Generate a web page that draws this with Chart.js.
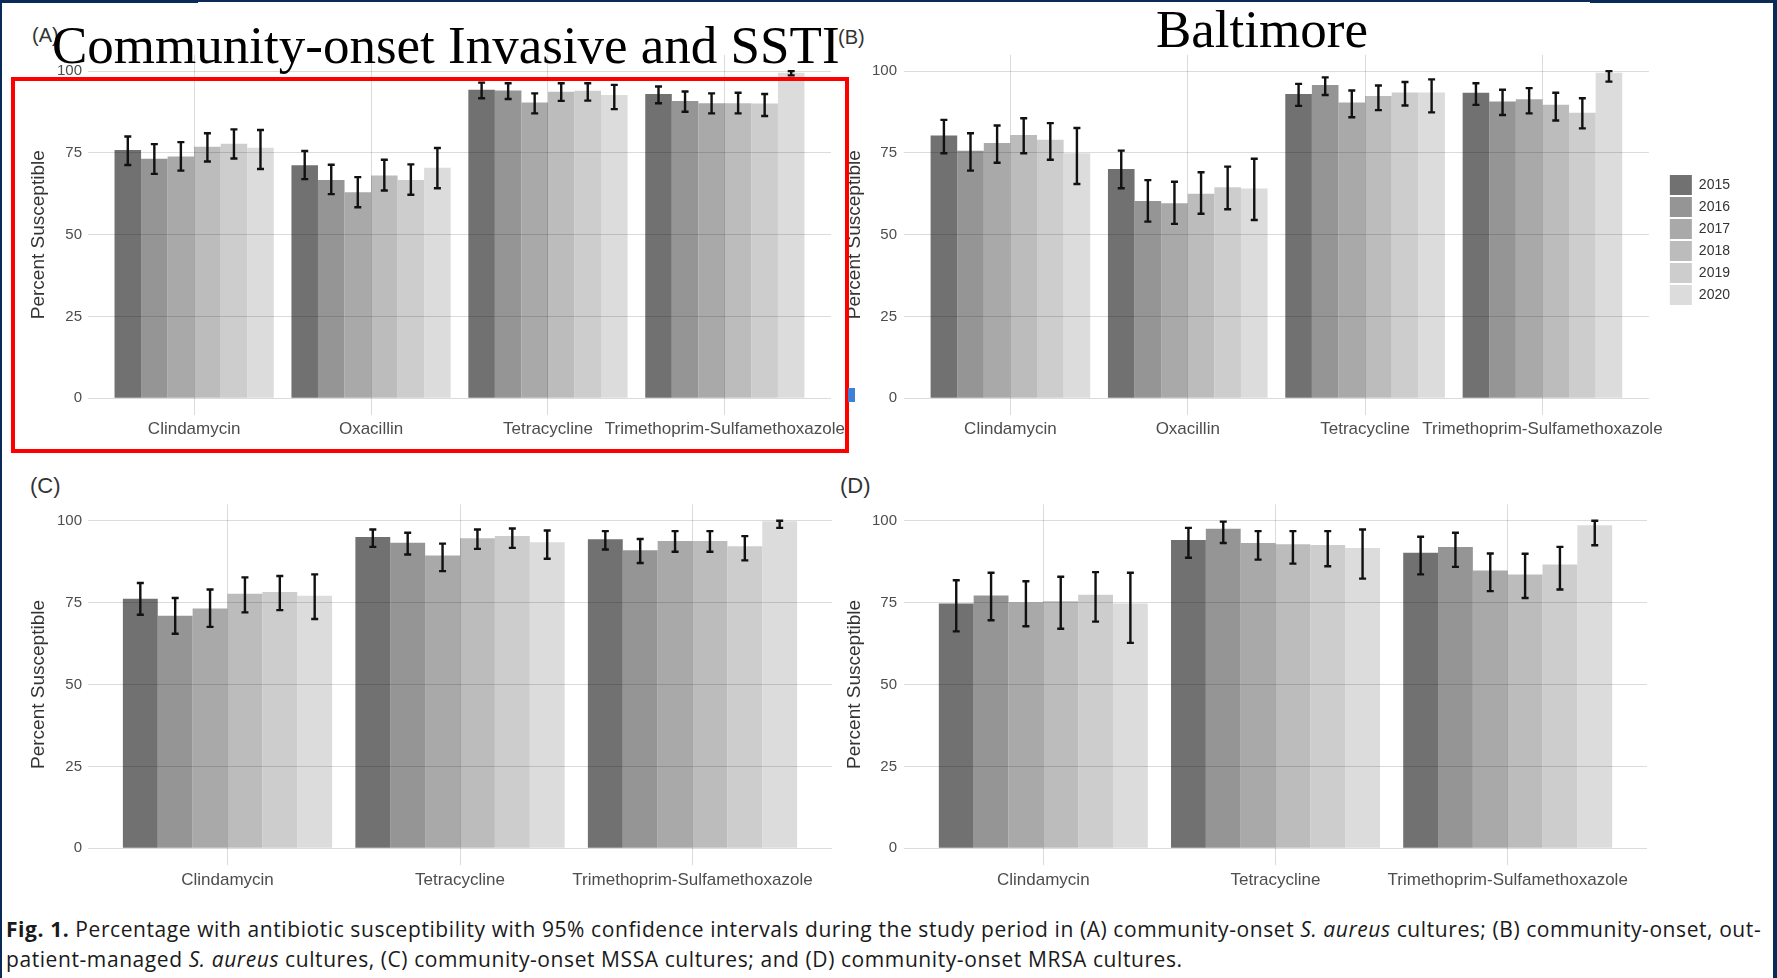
<!DOCTYPE html>
<html>
<head>
<meta charset="utf-8">
<script src="https://cdn.jsdelivr.net/npm/chart.js@4.4.1/dist/chart.umd.min.js"></script>
<style>
  html, body { margin: 0; padding: 0; background: #fff; }
  body { width: 1777px; height: 978px; position: relative; overflow: hidden; font-family: 'Liberation Sans', Arial, sans-serif; }
  canvas { position: absolute; }
  .edge { position: absolute; background: #0a2a57; }
  .tag { position: absolute; font-size: 20px; line-height: 20px; color: #333; white-space: nowrap; }
  .head { position: absolute; font-family: 'Liberation Serif', 'Times New Roman', serif; font-size: 53px; line-height: 53px; color: #000; white-space: nowrap; }
  #box { position: absolute; left: 11px; top: 77px; width: 830px; height: 368px; border: 4px solid #ff0000; }
  #handle { position: absolute; left: 848px; top: 388px; width: 7px; height: 14px; background: #3f7fd6; }
  #caption { position: absolute; left: 6px; top: 914px; font-family: 'Open Sans', sans-serif; font-size: 21px; letter-spacing: 0.58px; line-height: 30px; color: #1a1a1a; white-space: nowrap; }
</style>
</head>
<body>
<div class="tag" style="left:32px; top:25px;">(A)</div>
<div class="tag" style="left:838px; top:27px;">(B)</div>
<div class="tag" style="left:30px; top:476px; font-size:22px;">(C)</div>
<div class="tag" style="left:840px; top:476px; font-size:22px;">(D)</div>

<canvas id="panelA" width="860" height="460" style="left:0; top:0;"></canvas>
<canvas id="panelB" width="937" height="460" style="left:840px; top:0;"></canvas>
<canvas id="panelC" width="860" height="440" style="left:0; top:460px;"></canvas>
<canvas id="panelD" width="937" height="440" style="left:840px; top:460px;"></canvas>

<div class="head" style="left:52px; top:18.6px;">Community-onset Invasive and SSTI</div>
<div class="head" style="left:1156px; top:2.6px;">Baltimore</div>

<div id="box"></div>
<div id="handle"></div>

<div id="caption"><b>Fig. 1.</b> Percentage with antibiotic susceptibility with 95% confidence intervals during the study period in (A) community-onset <i>S. aureus</i> cultures; (B) community-onset, out-<br>patient-managed <i>S. aureus</i> cultures, (C) community-onset MSSA cultures; and (D) community-onset MRSA cultures.</div>

<div class="edge" style="left:0; top:0; width:198px; height:3px;"></div>
<div class="edge" style="left:198px; top:0; width:1392px; height:2px;"></div>
<div class="edge" style="left:1590px; top:0; width:187px; height:3px;"></div>
<div class="edge" style="left:0; top:0; width:2px; height:978px;"></div>
<div class="edge" style="left:1773px; top:0; width:4px; height:978px;"></div>

<script>
// Study years (one bar per year in every drug group)
const years = ['2015', '2016', '2017', '2018', '2019', '2020'];
const drugsAll = ['Clindamycin', 'Oxacillin', 'Tetracycline', 'Trimethoprim-Sulfamethoxazole'];
const drugsSub = ['Clindamycin', 'Tetracycline', 'Trimethoprim-Sulfamethoxazole'];
const yTicks = [0, 25, 50, 75, 100];

// (A) community-onset S. aureus: rows = years, columns = drugsAll
const pctA = [
  [75.9, 71.2, 94.3, 93.0],
  [73.2, 66.7, 94.1, 90.9],
  [73.9, 63.0, 90.4, 90.2],
  [76.9, 68.1, 93.7, 90.2],
  [77.8, 66.7, 94.0, 90.1],
  [76.6, 70.5, 92.7, 99.5]
];
const lowA = [
  [71.3, 67.0, 91.7, 90.2],
  [68.6, 62.4, 91.5, 87.6],
  [69.6, 58.4, 87.1, 87.1],
  [72.4, 63.5, 90.9, 87.1],
  [73.3, 62.2, 91.0, 86.3],
  [70.1, 64.2, 88.4, 98.7]
];
const highA = [
  [80.0, 75.6, 96.5, 95.3],
  [77.7, 71.4, 96.3, 93.8],
  [78.3, 67.6, 93.2, 93.2],
  [81.0, 72.9, 96.3, 93.4],
  [82.2, 71.5, 96.3, 93.0],
  [82.0, 76.5, 95.8, 100.0]
];

// (B) community-onset, outpatient-managed S. aureus
const pctB = [
  [80.3, 70.1, 93.0, 93.4],
  [75.7, 60.3, 95.8, 90.7],
  [78.0, 59.6, 90.4, 91.4],
  [80.5, 62.5, 92.4, 89.7],
  [79.0, 64.5, 93.5, 87.3],
  [74.9, 64.1, 93.5, 99.5]
];
const lowB = [
  [74.9, 64.2, 89.4, 89.7],
  [69.6, 54.0, 92.7, 86.6],
  [72.0, 53.3, 85.9, 87.1],
  [74.9, 56.4, 88.1, 84.9],
  [72.9, 57.8, 89.5, 82.5],
  [65.5, 54.5, 87.4, 96.8]
];
const highB = [
  [85.1, 75.7, 96.1, 96.3],
  [81.0, 66.7, 98.1, 94.3],
  [83.4, 66.2, 94.1, 94.8],
  [85.6, 69.1, 95.6, 93.4],
  [84.1, 70.8, 96.7, 91.7],
  [82.6, 73.2, 97.5, 100.0]
];

// (C) community-onset MSSA: columns = drugsSub
const pctC = [
  [76.2, 95.0, 94.3],
  [71.0, 93.3, 91.0],
  [73.2, 89.4, 93.8],
  [77.7, 94.6, 93.8],
  [78.2, 95.3, 92.2],
  [77.1, 93.4, 99.8]
];
const lowC = [
  [71.3, 92.0, 91.2],
  [65.5, 89.7, 87.1],
  [67.6, 84.6, 90.5],
  [72.0, 91.4, 90.5],
  [72.7, 91.7, 87.9],
  [70.0, 88.4, 97.8]
];
const highC = [
  [81.0, 97.3, 96.8],
  [76.4, 96.3, 94.4],
  [79.0, 93.0, 96.8],
  [82.7, 97.3, 96.8],
  [83.1, 97.6, 95.3],
  [83.6, 97.0, 100.0]
];

// (D) community-onset MRSA
const pctD = [
  [74.7, 94.1, 90.2],
  [77.2, 97.5, 92.0],
  [75.1, 93.2, 84.8],
  [75.4, 92.8, 83.6],
  [77.4, 92.6, 86.6],
  [74.7, 91.7, 98.6]
];
const lowD = [
  [66.2, 88.7, 83.6],
  [69.6, 93.2, 85.9],
  [67.8, 88.1, 78.5],
  [67.0, 86.9, 76.4],
  [69.2, 86.1, 79.0],
  [62.7, 82.3, 92.5]
];
const highD = [
  [81.8, 97.8, 95.1],
  [84.1, 99.7, 96.3],
  [81.5, 96.8, 90.0],
  [82.9, 96.8, 89.9],
  [84.3, 96.8, 92.0],
  [84.1, 97.3, 100.0]
];

const greys = ['#717171', '#959595', '#a9a9a9', '#bcbcbc', '#cdcdcd', '#dcdcdc'];
const gridColor = 'rgba(0,0,0,0.14)';
const sans = "'Liberation Sans', Arial, sans-serif";

// 95% CI whiskers, placed on each bar through the y scale
const errorBars = {
  id: 'errorBars',
  afterDraw(chart) {
    const ctx = chart.ctx;
    const y = chart.scales.y;
    ctx.save();
    ctx.strokeStyle = '#111';
    ctx.lineWidth = 2.4;
    chart.data.datasets.forEach((ds, i) => {
      chart.getDatasetMeta(i).data.forEach((bar, j) => {
        const yl = y.getPixelForValue(ds.ciLow[j]);
        const yh = y.getPixelForValue(ds.ciHigh[j]);
        const half = 3.5;
        ctx.beginPath();
        ctx.moveTo(bar.x, yl); ctx.lineTo(bar.x, yh);
        ctx.moveTo(bar.x - half, yl); ctx.lineTo(bar.x + half, yl);
        ctx.moveTo(bar.x - half, yh); ctx.lineTo(bar.x + half, yh);
        ctx.stroke();
      });
    });
    ctx.restore();
  }
};

function drawPanel(id, cats, pct, low, high, g) {
  const datasets = years.map((yr, i) => ({
    label: yr,
    data: cats.map((c, j) => ({ x: j + 1, y: pct[i][j] })),
    ciLow: low[i],
    ciHigh: high[i],
    backgroundColor: greys[i],
    borderWidth: 0,
    categoryPercentage: 0.9,
    barPercentage: 1.0
  }));

  const scales = {
    x: {
      type: 'linear',
      min: 0.4,
      max: cats.length + 0.6,
      bounds: 'data',
      offset: false,
      grid: { offset: false, color: gridColor, lineWidth: 1, drawTicks: false, z: 1 },
      border: { display: false },
      afterBuildTicks: s => { s.ticks = cats.map((c, j) => ({ value: j + 1 })); },
      afterFit: s => { s.height = g.xH; },
      ticks: {
        autoSkip: false, maxRotation: 0, minRotation: 0,
        padding: g.xPad, color: '#4d4d4d',
        font: { family: sans, size: 17 },
        callback: v => cats[Math.round(v) - 1] || ''
      }
    },
    y: {
      min: -5,
      max: 105,
      bounds: 'data',
      grid: { color: gridColor, lineWidth: 1, drawTicks: false, z: 1 },
      border: { display: false },
      afterBuildTicks: s => { s.ticks = yTicks.map(v => ({ value: v })); },
      afterFit: s => { s.width = g.yW; },
      ticks: { padding: g.yPad, color: '#4d4d4d', font: { family: sans, size: 15 } },
      title: {
        display: true, text: 'Percent Susceptible', color: '#333',
        font: { family: sans, size: 19 }, padding: { top: g.titlePad, bottom: 0 }
      }
    }
  };

  let legend = { display: false };
  if (g.legend) {
    // narrow spacer between plot panel and key
    scales.gap = {
      type: 'linear', position: 'right', display: true,
      grid: { display: false, drawTicks: false }, border: { display: false },
      ticks: { display: false },
      afterFit: s => { s.width = 19; }
    };
    // key sits a fixed distance below the top of the plot panel
    legend = {
      display: true, position: 'right', align: 'start',
      title: { display: true, text: '', padding: { top: 108.2, bottom: 0 }, font: { size: 10, lineHeight: 1 } },
      labels: { boxWidth: 22, boxHeight: 20, padding: 2, color: '#333', font: { family: sans, size: 14 } }
    };
  }

  new Chart(document.getElementById(id), {
    type: 'bar',
    data: { datasets },
    options: {
      responsive: false,
      animation: false,
      layout: { padding: g.pad },
      plugins: { legend, tooltip: { enabled: false } },
      scales
    },
    plugins: [errorBars]
  });
}

drawPanel('panelA', drugsAll, pctA, lowA, highA,
  { pad: { top: 54.8, bottom: 5.4, left: 0, right: 29 }, yW: 88, xH: 40, xPad: 5, yPad: 6, titlePad: 27 });
drawPanel('panelB', drugsAll, pctB, lowB, highB,
  { pad: { top: 54.8, bottom: 5.4, left: 0, right: 37 }, yW: 64, xH: 40, xPad: 5, yPad: 7, titlePad: 3.6, legend: true });
drawPanel('panelC', drugsSub, pctC, lowC, highC,
  { pad: { top: 44.3, bottom: 5.3, left: 0, right: 28 }, yW: 88, xH: 30, xPad: 5, yPad: 6, titlePad: 27 });
drawPanel('panelD', drugsSub, pctD, lowD, highD,
  { pad: { top: 44.3, bottom: 5.3, left: 0, right: 130 }, yW: 64, xH: 30, xPad: 5, yPad: 7, titlePad: 3.6 });
</script>
</body>
</html>
